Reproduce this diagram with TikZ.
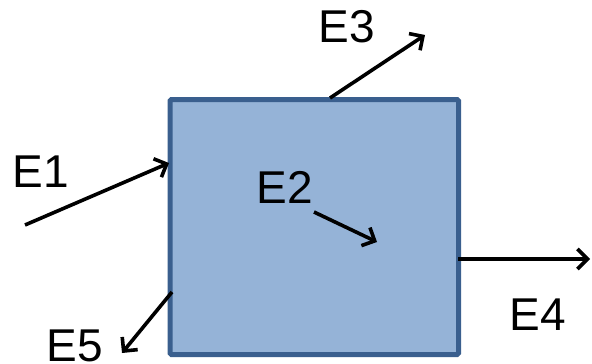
\documentclass[tikz,border=0pt]{standalone}
\usepackage{fontspec}
\setmainfont{Liberation Sans}
\usetikzlibrary{arrows.meta}
\definecolor{boxfill}{HTML}{95B3D7}
\definecolor{boxline}{HTML}{3A5F8E}
\begin{document}
\begin{tikzpicture}[x=1pt,y=-1pt,
  flow/.style={line width=3.6pt,-{Straight Barb[length=10pt,width=20pt]}},
  lbl/.style={font=\fontsize{46}{46}\selectfont,inner sep=0pt,anchor=center}]
\useasboundingbox (0,0) rectangle (592,364);
% control volume
\node[draw=boxline,fill=boxfill,line width=5pt,rounded corners=1.5pt,
  minimum width=288.5pt,minimum height=255pt,inner sep=0pt] (box) at (314.25,227) {};
% end points of the energy flows
\coordinate (e1s) at (25,225);  \coordinate (e1t) at (169,163);
\coordinate (e2s) at (314,212); \coordinate (e2t) at (377,242);
\coordinate (e3s) at (330,98);  \coordinate (e3t) at (425,35);
\coordinate (e4s) at (458,259); \coordinate (e4t) at (590,259);
\coordinate (e5s) at (172,292); \coordinate (e5t) at (122,353);
\draw[flow] (e1s) -- (e1t);
\draw[flow] (e2s) -- (e2t);
\draw[flow] (e3s) -- (e3t);
\draw[flow] (e4s) -- (e4t);
\draw[flow] (e5s) -- (e5t);
% labels
\node[lbl] (l1) at (41,171.5) {E1};
\node[lbl] (l2) at (285,187.5) {E2};
\node[lbl] (l3) at (346.5,26.5) {E3};
\node[lbl] (l4) at (537.5,315) {E4};
\node[lbl] (l5) at (75,346) {E5};
\end{tikzpicture}
\end{document}
